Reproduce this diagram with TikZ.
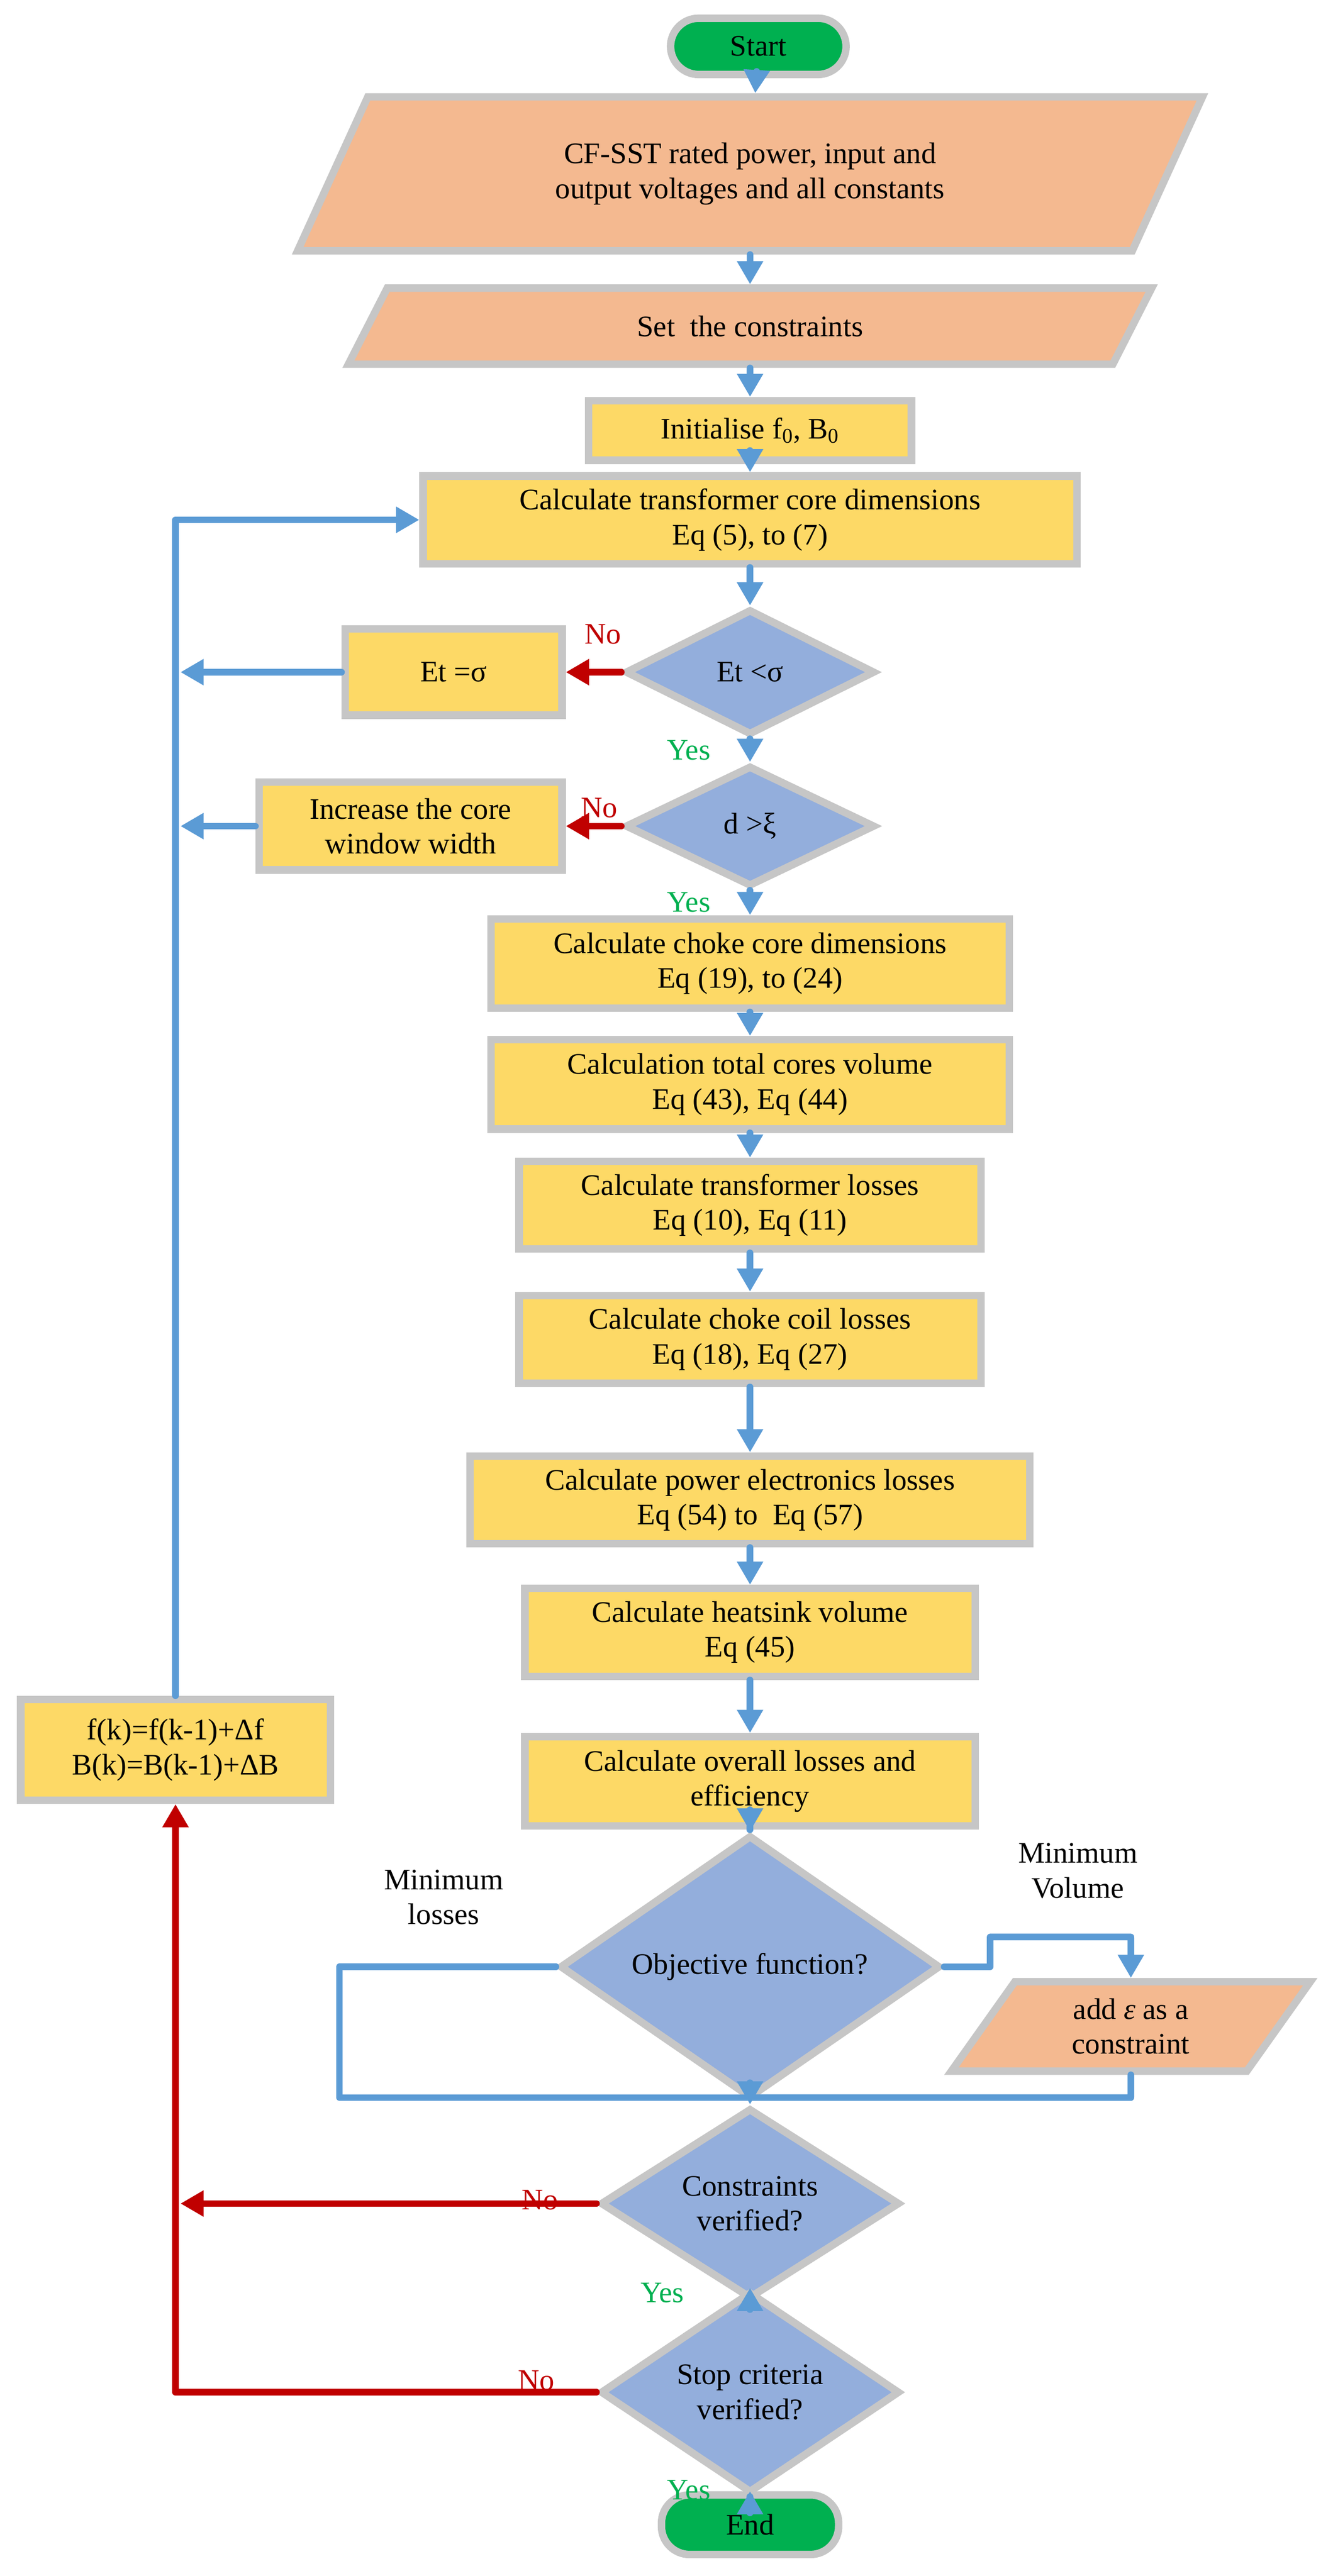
\documentclass[tikz,border=0pt]{standalone}
\usepackage{fontspec}
\setmainfont{Liberation Serif}
\usetikzlibrary{shapes.geometric,arrows.meta}
\definecolor{bx}{HTML}{FDD966}
\definecolor{pg}{HTML}{F4B990}
\definecolor{dm}{HTML}{93AEDC}
\definecolor{gn}{HTML}{00B050}
\definecolor{gb}{HTML}{C6C6C6}
\definecolor{ab}{HTML}{5B9BD5}
\definecolor{ar}{HTML}{C00000}
\definecolor{yg}{HTML}{00B050}
\begin{document}
\begin{tikzpicture}[x=1pt,y=-1pt,
  base/.style={draw=gb,line width=4.5pt,inner sep=0pt,align=center,font=\fontsize{18}{21}\selectfont},
  box/.style={base,rectangle,fill=bx},
  dia/.style={base,diamond,fill=dm},
  par/.style={base,trapezium,trapezium left angle=60,trapezium right angle=120,trapezium stretches=true,fill=pg},
  term/.style={base,rectangle,rounded corners=17pt,fill=gn},
  fl/.style={ab,line width=4pt,line cap=round,line join=round},
  fa/.style={fl,-{Triangle[length=14pt,width=15pt]}},
  rl/.style={ar,line width=4pt,line cap=round,line join=round},
  ra/.style={rl,-{Triangle[length=14pt,width=15pt]}},
  lab/.style={font=\fontsize{18}{21}\selectfont,align=center}]
\useasboundingbox (0,0) rectangle (805,1556);
\node[term,minimum width=106pt,minimum height=34pt] (start) at (458,28) {Start};
\node[par,minimum width=548pt,minimum height=93pt] (in) at (453,105) {CF-SST rated power, input and\\output voltages and all constants};
\node[par,minimum width=486pt,minimum height=46pt] (set) at (453,197) {Set\ \ the constraints};
\node[box,minimum width=195pt,minimum height=36pt] (init) at (453,260) {Initialise f\textsubscript{0}, B\textsubscript{0}};
\node[box,minimum width=395pt,minimum height=53pt] (ct) at (453,314) {Calculate transformer core dimensions\\Eq (5), to (7)};
\node[dia,minimum width=151pt,minimum height=76pt] (d1) at (453,406) {Et <σ};
\node[box,minimum width=131pt,minimum height=52pt] (et) at (274,406) {Et =σ};
\node[dia,minimum width=151pt,minimum height=73pt] (d2) at (453,499) {d >ξ};
\node[box,minimum width=183pt,minimum height=53pt] (inc) at (248,499) {Increase the core\\window width};
\node[box,minimum width=313pt,minimum height=54pt] (cc) at (453,582) {Calculate choke core dimensions\\Eq (19), to (24)};
\node[box,minimum width=313pt,minimum height=54pt] (tc) at (453,655) {Calculation total cores volume\\Eq (43), Eq (44)};
\node[box,minimum width=279pt,minimum height=53pt] (tl) at (453,728) {Calculate transformer losses\\Eq (10), Eq (11)};
\node[box,minimum width=279pt,minimum height=53pt] (cl) at (453,809) {Calculate choke coil losses\\Eq (18), Eq (27)};
\node[box,minimum width=338pt,minimum height=53pt] (pe) at (453,906) {Calculate power electronics losses\\Eq (54) to\ \ Eq (57)};
\node[box,minimum width=272pt,minimum height=53pt] (hs) at (453,986) {Calculate heatsink volume\\Eq (45)};
\node[box,minimum width=272pt,minimum height=54pt] (ov) at (453,1076) {Calculate overall losses and\\efficiency};
\node[dia,minimum width=230pt,minimum height=115pt] (obj) at (453,1188) {Objective function?};
\node[par,minimum width=217pt,minimum height=54pt] (eps) at (683,1224) {add \textit{ε} as a\\constraint};
\node[dia,minimum width=181pt,minimum height=89pt] (cv) at (453,1331) {Constraints\\verified?};
\node[dia,minimum width=181pt,minimum height=90pt] (sc) at (453,1445) {Stop criteria\\verified?};
\node[term,minimum width=107pt,minimum height=36pt] (end) at (453,1525) {End};
\node[box,minimum width=187pt,minimum height=61pt] (fk) at (106,1057) {f(k)=f(k-1)+Δf\\B(k)=B(k-1)+ΔB};
% labels
\node[lab,ar] (n1) at (364,383) {No};
\node[lab,ar] (n2) at (362,488) {No};
\node[lab,yg] (y1) at (416,453) {Yes};
\node[lab,yg] (y2) at (416,545) {Yes};
\node[lab] (ml) at (268,1146) {Minimum\\losses};
\node[lab] (mv) at (651,1130) {Minimum\\Volume};
\node[lab,ar] (n3) at (326,1329) {No};
\node[lab,yg] (y3) at (400,1385) {Yes};
\node[lab,ar] (n4) at (324,1438) {No};
\node[lab,yg] (y4) at (416,1504) {Yes};
% coordinates
\coordinate (a1) at (109,406);
\coordinate (a2) at (109,499);
\coordinate (lt) at (106,314);
\coordinate (l1) at (205,1188);
\coordinate (l2) at (205,1267);
\coordinate (mj) at (453,1267);
\coordinate (r1) at (598,1188);
\coordinate (r2) at (598,1170);
\coordinate (r3) at (683,1170);
\coordinate (r4) at (683,1267);
\coordinate (c1) at (109,1331);
\coordinate (s1) at (106,1445);
% blue flow
\draw[fa] (start) -- (in);
\draw[fa] (in) -- (set);
\draw[fa] (set) -- (init);
\draw[fa] (init) -- (ct);
\draw[fa] (ct) -- (d1);
\draw[fa] (d1) -- (d2);
\draw[fa] (d2) -- (cc);
\draw[fa] (cc) -- (tc);
\draw[fa] (tc) -- (tl);
\draw[fa] (tl) -- (cl);
\draw[fa] (cl) -- (pe);
\draw[fa] (pe) -- (hs);
\draw[fa] (hs) -- (ov);
\draw[fa] (ov) -- (obj);
\draw[fl] (obj.west) -- (l1) -- (l2) -- (mj);
\draw[fa] (obj.east) -- (r1) -- (r2) -- (r3) -- (eps.north);
\draw[fl] (eps.south) -- (r4) -- (mj);
\draw[fa] (mj) -- (cv.north);
\draw[fa] (cv) -- (sc);
\draw[fa] (sc) -- (end);
\draw[fa] (et.west) -- (a1);
\draw[fa] (inc.west) -- (a2);
\draw[fa] (fk.north) -- (lt) -- (ct.west);
% red
\draw[ra] (d1.west) -- (et.east);
\draw[ra] (d2.west) -- (inc.east);
\draw[ra] (cv.west) -- (c1);
\draw[ra] (sc.west) -- (s1) -- (fk.south);
\end{tikzpicture}
\end{document}
